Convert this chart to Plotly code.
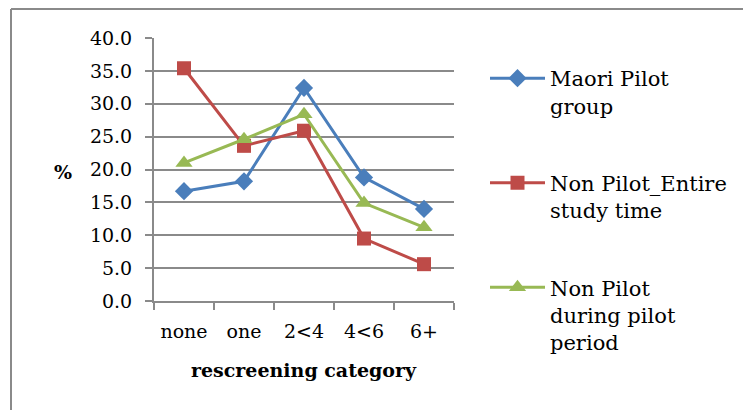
import plotly.graph_objects as go

# Rescreening categories and percentage of women in each group
categories = ["none", "one", "2<4", "4<6", "6+"]
maori_pilot = [16.7, 18.2, 32.4, 18.8, 14.0]
non_pilot_entire = [35.4, 23.6, 25.9, 9.5, 5.6]
non_pilot_during = [21.0, 24.6, 28.4, 14.9, 11.2]

series_names = [
    "Maori Pilot<br>group",
    "Non Pilot_Entire<br>study time",
    "Non Pilot<br>during pilot<br>period",
]
y_ticks = [0, 5, 10, 15, 20, 25, 30, 35, 40]
y_tick_text = [f"{v:.1f}" for v in y_ticks]

FONT = "DejaVu Serif"
GRID = "#8a8a8a"

W, H = 743, 410
L, R, T, B = 154, 454, 38, 301  # plot area in pixels


def px_x(px):
    return (px - L) / (R - L)


def px_y(py):
    return (B - py) / (B - T)


fig = go.Figure()
styles = [
    (maori_pilot, "#4a7ebb", "diamond", 14),
    (non_pilot_entire, "#be4b48", "square", 14),
    (non_pilot_during, "#98b954", "triangle-up", 15),
]
for name, (vals, color, symbol, size) in zip(series_names, styles):
    fig.add_trace(go.Scatter(
        x=categories, y=vals, name=name, legendgroup=name,
        mode="lines+markers",
        line=dict(color=color, width=3),
        marker=dict(symbol=symbol, size=size, color=color),
    ))

fig.update_layout(
    width=W, height=H,
    margin=dict(l=L, r=W - R, t=T, b=H - B, autoexpand=False),
    paper_bgcolor="white", plot_bgcolor="white",
    font=dict(family=FONT, size=19, color="black"),
    showlegend=True,
    legend=dict(
        x=px_x(485), y=px_y(58), xanchor="left", yanchor="top",
        font=dict(family=FONT, size=21, color="black"),
        valign="top", tracegroupgap=47, itemwidth=55,
        maxheight=400,
        bgcolor="rgba(0,0,0,0)",
    ),
    xaxis=dict(
        type="category", range=[-0.5, 4.5],
        showline=True, linecolor=GRID, linewidth=2,
        ticks="outside", tickson="boundaries", ticklen=7,
        tickcolor=GRID, tickwidth=2,
        showgrid=False, ticklabelstandoff=12,
        tickfont=dict(family=FONT, size=19),
    ),
    yaxis=dict(
        range=[0, 40], tickvals=y_ticks, ticktext=y_tick_text,
        showline=True, linecolor=GRID, linewidth=2,
        ticks="outside", ticklen=7, tickcolor=GRID, tickwidth=2,
        showgrid=True, gridcolor=GRID, gridwidth=2,
        zeroline=False, ticklabelstandoff=9,
        tickfont=dict(family=FONT, size=19),
    ),
    annotations=[
        dict(text="<b>%</b>", x=px_x(63), y=px_y(172), xref="paper", yref="paper",
             xanchor="center", yanchor="middle", showarrow=False,
             font=dict(family=FONT, size=19)),
        dict(text="<b>rescreening category</b>", x=px_x(304), y=px_y(370),
             xref="paper", yref="paper", xanchor="center", yanchor="middle",
             showarrow=False, font=dict(family=FONT, size=19)),
    ],
    shapes=[
        dict(type="line", xref="paper", yref="paper",
             x0=px_x(11), x1=px_x(W + 5), y0=px_y(9), y1=px_y(9),
             line=dict(color=GRID, width=2)),
        dict(type="line", xref="paper", yref="paper",
             x0=px_x(11), x1=px_x(11), y0=px_y(9), y1=px_y(H + 5),
             line=dict(color=GRID, width=2)),
    ],
)

fig.write_html("out.html")
